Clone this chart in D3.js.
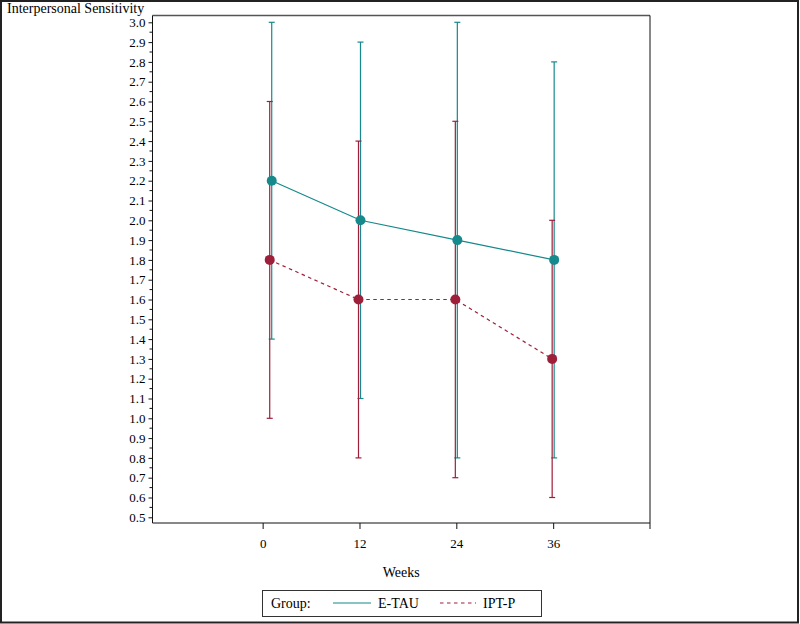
<!DOCTYPE html>
<html>
<head>
<meta charset="utf-8">
<script src="https://cdn.jsdelivr.net/npm/d3@7"></script>
<style>
  html, body { margin: 0; padding: 0; background: #fff; }
  svg { display: block; }
  text { font-family: "Liberation Serif", "DejaVu Serif", serif; fill: #000; }
</style>
</head>
<body>
<svg id="chart" width="800" height="624"></svg>
<script>
// ---- data ----
const weekLabels = [0, 12, 24, 36];
const weekPositions = [1, 12, 24, 36];      // plotted week values (baseline drawn at week 1)
const groups = ["E-TAU", "IPT-P"];
const etauMean = [2.2, 2.0, 1.9, 1.8];
const etauLow  = [1.4, 1.1, 0.8, 0.8];
const etauHigh = [3.0, 2.9, 3.0, 2.8];
const iptpMean = [1.8, 1.6, 1.6, 1.3];
const iptpLow  = [1.0, 0.8, 0.7, 0.6];
const iptpHigh = [2.6, 2.4, 2.5, 2.0];
const yTicks = d3.range(5, 31).map(d => d / 10);
const yMinorTicks = d3.range(5, 30).map(d => d / 10 + 0.05);

const colors = { "E-TAU": "#15898b", "IPT-P": "#9e1f3a" };
const dodge = { "E-TAU": 1, "IPT-P": -1 };
const dash = { "E-TAU": null, "IPT-P": "3.5,3.5" };

const series = [
  { name: "E-TAU", mean: etauMean, low: etauLow, high: etauHigh },
  { name: "IPT-P", mean: iptpMean, low: iptpLow, high: iptpHigh }
];

const svg = d3.select("#chart");

// outer border
svg.append("rect").attr("x", 1).attr("y", 1).attr("width", 797).attr("height", 621.5)
  .attr("fill", "none").attr("stroke", "#222").attr("stroke-width", 2);

const frame = { left: 152.5, right: 650, top: 15.5, bottom: 523 };

const x = d3.scaleLinear().domain([-13.65, 48]).range([frame.left, frame.right]);
const y = d3.scaleLinear().domain([0.5, 3.0]).range([517.3, 22.3]);

// frame
svg.append("line").attr("x1", frame.left).attr("x2", frame.right).attr("y1", frame.top).attr("y2", frame.top)
  .attr("stroke", "#555").attr("stroke-width", 1.5);
svg.append("line").attr("x1", frame.right).attr("x2", frame.right).attr("y1", frame.top).attr("y2", frame.bottom)
  .attr("stroke", "#111").attr("stroke-width", 1);

// y axis
const yAxis = d3.axisLeft(y).tickValues(yTicks).tickFormat(d3.format(".1f")).tickSize(4).tickPadding(3);
const gy = svg.append("g").attr("transform", `translate(${frame.left},0)`).call(yAxis);
gy.select(".domain").remove();
gy.append("line").attr("x1", 0).attr("x2", 0).attr("y1", frame.top).attr("y2", frame.bottom).attr("stroke", "#111");
gy.selectAll(".tick line").attr("stroke", "#111");
gy.selectAll(".tick text").attr("font-size", 13).attr("font-family", "Liberation Serif").attr("fill", "#000");
gy.selectAll(".minor").data(yMinorTicks).enter().append("line")
  .attr("x1", -3).attr("x2", 0).attr("y1", d => y(d)).attr("y2", d => y(d)).attr("stroke", "#111");

// x axis
const xAxis = d3.axisBottom(x).tickValues(weekLabels).tickFormat(d3.format("d")).tickSize(6).tickPadding(10);
const gx = svg.append("g").attr("transform", `translate(0,${frame.bottom})`).call(xAxis);
gx.select(".domain").remove();
gx.append("line").attr("x1", frame.left).attr("x2", frame.right).attr("y1", 0).attr("y2", 0).attr("stroke", "#111");
gx.append("line").attr("x1", frame.right).attr("x2", frame.right).attr("y1", 0).attr("y2", 6).attr("stroke", "#111");
gx.selectAll(".tick line").attr("stroke", "#111");
gx.selectAll(".tick text").attr("font-size", 13).attr("font-family", "Liberation Serif").attr("fill", "#000");

// axis titles
svg.append("text").attr("x", 7).attr("y", 13).attr("font-size", 14).text("Interpersonal Sensitivity");
svg.append("text").attr("x", (frame.left + frame.right) / 2).attr("y", 577).attr("text-anchor", "middle")
  .attr("font-size", 14).text("Weeks");

// error bars, lines, markers
const capW = 3;
series.forEach(s => {
  const c = colors[s.name];
  const g = svg.append("g");
  const px = i => x(weekPositions[i]) + dodge[s.name];
  weekPositions.forEach((w, i) => {
    g.append("line").attr("x1", px(i)).attr("x2", px(i)).attr("y1", y(s.low[i])).attr("y2", y(s.high[i]))
      .attr("stroke", c).attr("stroke-width", 1.2);
    [s.low[i], s.high[i]].forEach(v => {
      g.append("line").attr("x1", px(i) - capW).attr("x2", px(i) + capW).attr("y1", y(v)).attr("y2", y(v))
        .attr("stroke", c).attr("stroke-width", 1.2);
    });
  });
});
series.forEach(s => {
  const c = colors[s.name];
  const pts = weekPositions.map((w, i) => [x(w) + dodge[s.name], y(s.mean[i])]);
  svg.append("path").attr("d", d3.line()(pts)).attr("fill", "none").attr("stroke", c)
    .attr("stroke-width", 1.2).attr("stroke-dasharray", dash[s.name]);
  svg.selectAll(null).data(pts).enter().append("circle")
    .attr("cx", d => d[0]).attr("cy", d => d[1]).attr("r", 5).attr("fill", c);
});

// legend
const lg = svg.append("g");
lg.append("rect").attr("x", 262.5).attr("y", 590.5).attr("width", 279).attr("height", 26)
  .attr("fill", "#fff").attr("stroke", "#333").attr("stroke-width", 1);
lg.append("text").attr("x", 271).attr("y", 608).attr("font-size", 14).text("Group:");
const legItems = [
  { name: "E-TAU", x0: 333, x1: 371, tx: 378 },
  { name: "IPT-P", x0: 440, x1: 476, tx: 483 }
];
legItems.forEach(it => {
  lg.append("line").attr("x1", it.x0).attr("x2", it.x1).attr("y1", 603).attr("y2", 603)
    .attr("stroke", colors[it.name]).attr("stroke-width", 1.2).attr("stroke-dasharray", dash[it.name]);
  lg.append("text").attr("x", it.tx).attr("y", 608).attr("font-size", 14).text(it.name);
});
</script>
</body>
</html>
